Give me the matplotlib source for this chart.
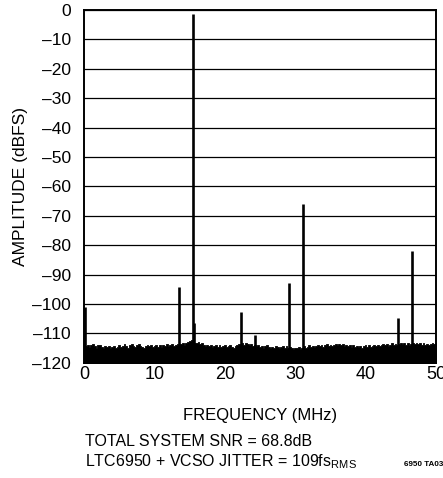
import numpy as np
import matplotlib
matplotlib.use('Agg')
import matplotlib.pyplot as plt

plt.rcParams['font.family'] = ['Liberation Sans Narrow', 'Liberation Sans', 'DejaVu Sans']
plt.rcParams['mathtext.fontset'] = 'custom'
plt.rcParams['mathtext.rm'] = 'Liberation Sans'

# noise floor tops (dBFS), 0 to 50 MHz in 0.25 MHz steps
noise = [
    -113.5, -114.2, -113.8, -114.6, -114.0, -113.6, -114.3, -114.8, -114.1, -113.9,
    -114.5, -115.0, -114.4, -114.7, -114.2, -115.1, -114.6, -114.3, -114.9, -114.5,
    -114.0, -114.6, -114.2, -113.7, -114.4, -114.8, -114.1, -113.6, -114.3, -114.7,
    -114.0, -113.5, -114.2, -114.6, -114.9, -114.3, -113.8, -114.4, -114.1, -114.7,
    -114.3, -113.9, -114.5, -114.0, -114.6, -113.8, -114.2, -113.6, -114.4, -114.1,
    -113.7, -114.3, -113.9, -113.5, -114.0, -113.6, -113.3, -113.8, -113.2, -112.9,
    -112.6, -112.2, -112.8, -113.1, -113.4, -113.0, -113.7, -113.3, -113.9, -114.2,
    -113.8, -114.4, -114.0, -114.6, -114.2, -113.9, -114.5, -114.1, -114.7, -114.3,
    -114.0, -114.6, -114.2, -113.8, -114.5, -114.9, -114.3, -113.9, -113.5, -113.9,
    -113.4, -113.8, -113.3, -113.7, -114.1, -113.6, -114.2, -113.8, -114.4, -114.0,
    -114.6, -114.2, -114.8, -114.4, -114.0, -114.6, -115.0, -114.5, -114.9, -114.3,
    -114.7, -115.1, -114.6, -114.2, -114.8, -114.4, -115.0, -114.6, -114.9, -115.2,
    -114.8, -115.1, -114.7, -115.2, -114.8, -114.4, -114.9, -114.5, -114.1, -114.6,
    -114.2, -114.7, -114.3, -113.9, -114.4, -114.0, -114.5, -114.1, -113.7, -114.2,
    -113.8, -114.3, -113.9, -113.5, -114.0, -113.6, -114.1, -113.7, -114.2, -113.8,
    -114.4, -114.0, -114.5, -114.1, -114.6, -114.2, -114.7, -114.3, -114.8, -114.4,
    -114.0, -114.5, -114.1, -114.6, -114.2, -113.8, -114.3, -113.9, -114.4, -114.0,
    -113.6, -114.1, -113.7, -114.2, -113.8, -113.4, -113.9, -113.5, -114.0, -113.6,
    -113.2, -113.7, -113.3, -113.8, -113.4, -113.9, -113.5, -113.1, -113.6, -113.2,
    -113.7, -113.3, -113.8, -113.4, -113.9, -113.5, -114.0, -113.6, -113.2, -113.7,
    -113.4,
]
freq = np.linspace(0, 50, len(noise))

# spurs and fundamental
spur_freq = [0.05, 13.5, 15.5, 15.65, 22.25, 24.3, 29.1, 31.05, 44.65, 46.6]
spur_amp = [-101, -94.3, -1.3, -106.5, -102.6, -110.5, -93, -66, -104.7, -82]

fig = plt.figure(figsize=(4.43, 4.78), dpi=100)
ax = fig.add_axes([0.19, 0.241, 0.794, 0.738])

ax.fill_between(freq, -125, noise, step='mid', color='black', lw=0.6, edgecolor='black')
ax.vlines(spur_freq, -120, spur_amp, colors='black', lw=1.9)

ax.set_xlim(0, 50)
ax.set_ylim(-120, 0)
ax.set_xticks([0, 10, 20, 30, 40, 50])
ax.set_yticks(np.arange(-120, 1, 10))
ax.set_yticklabels(['0' if v == 0 else '\u2013%d' % -v for v in np.arange(-120, 1, 10)])
ax.tick_params(length=0, labelsize=12.5)
ax.tick_params(axis='y', pad=9.5)
ax.tick_params(axis='x', pad=2, labelsize=13)
ax.yaxis.grid(True, color='black', lw=0.9)
ax.set_axisbelow(True)
for s in ax.spines.values():
    s.set_linewidth(1.4)
    s.set_zorder(5)

ax.set_xlabel('FREQUENCY (MHz)', fontsize=12, labelpad=18)
ax.set_ylabel('AMPLITUDE (dBFS)', fontsize=12.5, labelpad=3)

fig.text(85 / 443, 1 - 442 / 478, 'TOTAL SYSTEM SNR = 68.8dB', fontsize=11.5, va='center', ha='left')
fig.text(85 / 443, 1 - 462 / 478, 'LTC6950 + VCSO JITTER = 109fs$_{\\mathrm{RMS}}$', fontsize=11.5, va='center', ha='left')
fig.text(404 / 443, 1 - 464 / 478, '6950 TA03', fontsize=5.8, weight='bold', va='center', ha='left')

fig.savefig('out.png', dpi=100)
